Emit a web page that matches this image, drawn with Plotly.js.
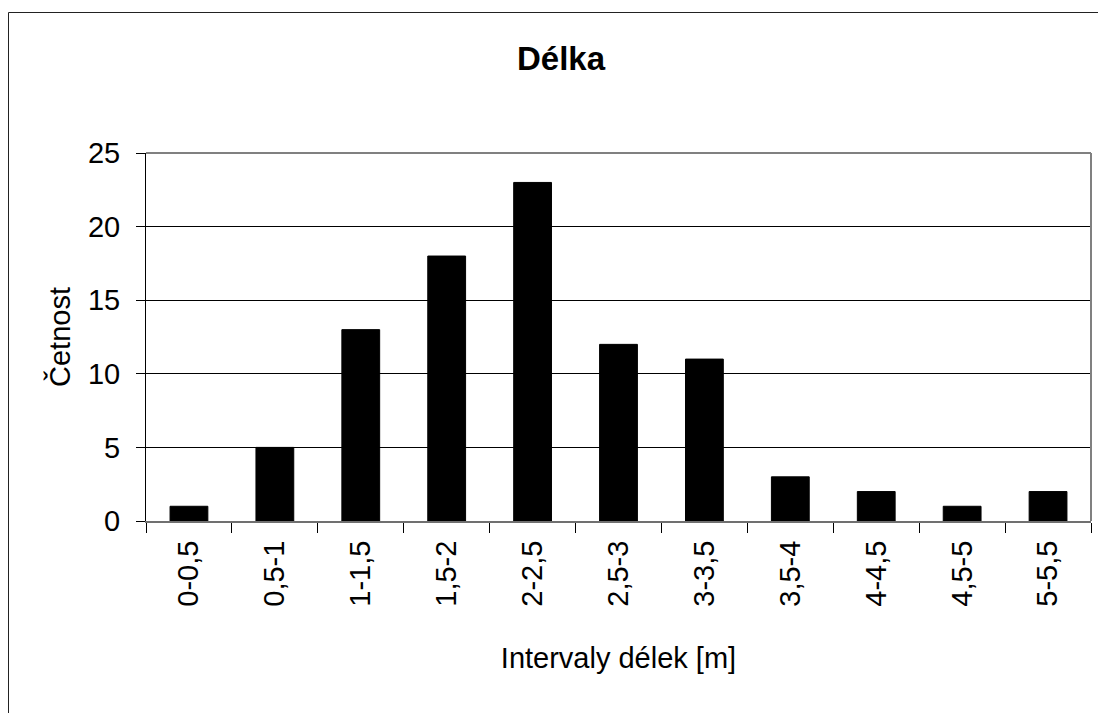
<!DOCTYPE html>
<html>
<head>
<meta charset="utf-8">
<script src="https://cdn.plot.ly/plotly-3.0.1.min.js"></script>
<style>
html,body{margin:0;padding:0;background:#fff;}
#chart{width:1098px;height:713px;}
</style>
</head>
<body>
<div id="chart"></div>
<script>
const categories = ["0-0,5","0,5-1","1-1,5","1,5-2","2-2,5","2,5-3","3-3,5","3,5-4","4-4,5","4,5-5","5-5,5"];
const counts = [1,5,13,18,23,12,11,3,2,1,2];
const yTicks = [0,5,10,15,20,25];

const W = 1098, H = 713;
const mL = 146, mR = 7, mT = 153, mB = 192;
const pw = W - mL - mR, ph = H - mT - mB;
// outer frame in paper coords
const fx0 = (8.5 - mL) / pw, fx1 = (1200 - mL) / pw;
const fy1 = 1 + (mT - 12.5) / ph, fy0 = -(mB + 50) / ph;

const FONT = "Arial, 'Liberation Sans', sans-serif";

const trace = {
  type: 'bar',
  x: categories,
  y: counts,
  marker: {color: '#000000', line: {color: '#000000', width: 1}},
  hoverinfo: 'x+y'
};

const layout = {
  width: W, height: H,
  margin: {l: mL, r: mR, t: mT, b: mB, pad: 0},
  paper_bgcolor: '#ffffff',
  plot_bgcolor: '#ffffff',
  bargap: 0.56,
  showlegend: false,
  font: {family: FONT, color: '#000', size: 29},
  title: {
    text: '<b>Délka</b>',
    font: {family: FONT, size: 33, color: '#000'},
    xref: 'container', x: 561 / W, xanchor: 'center',
    yref: 'container', y: 1 - 58 / H, yanchor: 'middle'
  },
  xaxis: {
    type: 'category',
    tickson: 'boundaries',
    ticks: 'outside', ticklen: 10, tickwidth: 1, tickcolor: '#000',
    tickangle: -90,
    tickfont: {family: FONT, size: 29, color: '#000'},
    ticklabelstandoff: 6,
    showline: true, linecolor: '#707070', linewidth: 2,
    showgrid: false, zeroline: false,
    title: {text: 'Intervaly délek [m]', font: {family: FONT, size: 29, color: '#000'}, standoff: 42},
    automargin: false
  },
  yaxis: {
    range: [0, 25],
    tickvals: yTicks,
    ticktext: yTicks.map(String),
    ticks: 'outside', ticklen: 9, tickwidth: 1, tickcolor: '#000',
    tickfont: {family: FONT, size: 29, color: '#000'},
    ticklabelstandoff: 10,
    showline: true, linecolor: '#000', linewidth: 1,
    showgrid: true, gridcolor: '#000', gridwidth: 1,
    zeroline: false,
    title: {text: 'Četnost', font: {family: FONT, size: 29, color: '#000'}, standoff: 8},
    automargin: false
  },
  shapes: [
    {type: 'line', xref: 'paper', yref: 'paper', x0: 0, x1: 1, y0: 1, y1: 1, line: {color: '#808080', width: 2}},
    {type: 'line', xref: 'paper', yref: 'paper', x0: 1, x1: 1, y0: 0, y1: 1, line: {color: '#808080', width: 2}},
    {type: 'rect', xref: 'paper', yref: 'paper', x0: fx0, x1: fx1, y0: fy0, y1: fy1, line: {color: '#222', width: 1}, layer: 'below'}
  ]
};

Plotly.newPlot('chart', [trace], layout, {staticPlot: true, displayModeBar: false});
</script>
</body>
</html>
